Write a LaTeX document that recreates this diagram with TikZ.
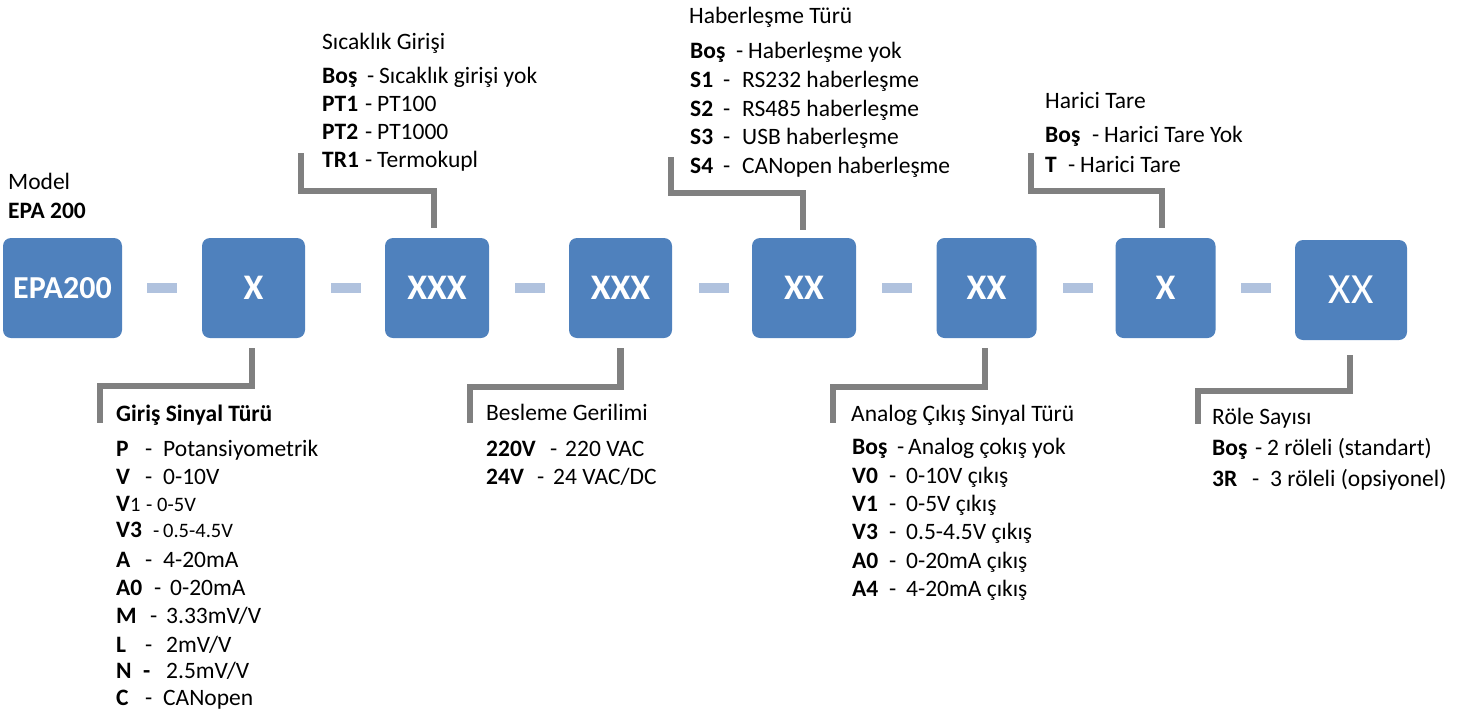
\documentclass[tikz,border=0pt]{standalone}
\usepackage{fontspec}
\setmainfont{Carlito}
\definecolor{boxblue}{HTML}{4F81BD}
\definecolor{dashblue}{HTML}{B0C2DE}
\definecolor{conngray}{HTML}{808080}
\newcommand\kvrow[4]{\makebox[#1pt][l]{\textbf{#2}}\makebox[#3pt][l]{-}#4}
\newcommand\smalltxt{\fontsize{20.5}{24}\selectfont}
\begin{document}
\begin{tikzpicture}[x=1pt,y=-1pt]
\tikzset{
  codebox/.style={fill=boxblue, rounded corners=8pt, minimum height=100pt, text=white,
    font=\fontsize{36}{40}\selectfont\bfseries, inner sep=0pt},
  sepbar/.style={fill=dashblue, minimum width=30pt, minimum height=10pt, inner sep=0pt},
  conn/.style={draw=conngray, line width=6.5pt, line join=miter},
  txt/.style={anchor=base west, inner sep=0pt, font=\fontsize{23.5}{27}\selectfont},
}
\useasboundingbox (0,0) rectangle (1473,718);

% boxes
\node[codebox, minimum width=119pt, font=\fontsize{32}{36}\selectfont\bfseries] (b1) at (62.5,288) {EPA200};
\node[codebox, minimum width=103pt] (b2) at (253.5,288) {X};
\node[codebox, minimum width=104pt] (b3) at (437,288) {XXX};
\node[codebox, minimum width=103pt] (b4) at (620.5,288) {XXX};
\node[codebox, minimum width=104pt] (b5) at (804,288) {XX};
\node[codebox, minimum width=100pt] (b6) at (986.5,288) {XX};
\node[codebox, minimum width=100pt] (b7) at (1165.5,288) {X};
\node[codebox, minimum width=112pt, font=\fontsize{43}{46}\selectfont] (b8) at (1351,290) {XX};

% separators
\node[sepbar] (d1) at (162,288) {};
\node[sepbar] (d2) at (346,288) {};
\node[sepbar] (d3) at (530,288) {};
\node[sepbar] (d4) at (714,288) {};
\node[sepbar] (d5) at (897,288) {};
\node[sepbar] (d6) at (1078,288) {};
\node[sepbar] (d7) at (1256,288) {};

% connector end points
\coordinate (g1a) at (100,386); \coordinate (g1) at (100,423);
\coordinate (g2a) at (301,191); \coordinate (g2) at (301,153);
\coordinate (g3a) at (470,387); \coordinate (g3) at (470,423);
\coordinate (g4a) at (671,193); \coordinate (g4) at (671,157);
\coordinate (g5a) at (833,387); \coordinate (g5) at (833,423);
\coordinate (g6a) at (1031,191); \coordinate (g6) at (1031,153);
\coordinate (g7a) at (1198,391); \coordinate (g7) at (1198,424);

\draw[conn] ([xshift=-1.5pt,yshift=-10pt]b2.south) |- (g1a) -- (g1);
\draw[conn] ([xshift=-3pt,yshift=10pt]b3.north) |- (g2a) -- (g2);
\draw[conn] ([yshift=-10pt]b4.south) |- (g3a) -- (g3);
\draw[conn] ([xshift=-1pt,yshift=8pt]b5.north) |- (g4a) -- (g4);
\draw[conn] ([xshift=-1.5pt,yshift=-10pt]b6.south) |- (g5a) -- (g5);
\draw[conn] ([xshift=-3.5pt,yshift=10pt]b7.north) |- (g6a) -- (g6);
\draw[conn] ([xshift=-1pt,yshift=-15pt]b8.south) |- (g7a) -- (g7);

% Model
\node[txt] (m1) at (8,189) {Model};
\node[txt] (m2) at (8,218) {\textbf{EPA 200}};

% Sicaklik Girisi
\node[txt] (s0) at (322,49) {Sıcaklık Girişi};
\node[txt] (s1) at (322,83) {\kvrow{45}{Boş}{12}{Sıcaklık girişi yok}};
\node[txt] (s2) at (322,111) {\kvrow{43}{PT1}{12}{PT100}};
\node[txt] (s3) at (322,139) {\kvrow{43}{PT2}{12}{PT1000}};
\node[txt] (s4) at (322,167) {\kvrow{43}{TR1}{12}{Termokupl}};

% Haberlesme Turu
\node[txt] (h0) at (689,23) {Haberleşme Türü};
\node[txt] (h1) at (690,58) {\kvrow{46}{Boş}{12}{Haberleşme yok}};
\node[txt] (h2) at (690,87) {\kvrow{33}{S1}{19}{RS232 haberleşme}};
\node[txt] (h3) at (690,116) {\kvrow{33}{S2}{19}{RS485 haberleşme}};
\node[txt] (h4) at (690,144) {\kvrow{33}{S3}{19}{USB haberleşme}};
\node[txt] (h5) at (690,173) {\kvrow{33}{S4}{19}{CANopen haberleşme}};

% Harici Tare
\node[txt] (t0) at (1045,108) {Harici Tare};
\node[txt] (t1) at (1045,142) {\kvrow{47}{Boş}{12}{Harici Tare Yok}};
\node[txt] (t2) at (1045,172) {\kvrow{23}{T}{12}{Harici Tare}};

% Giris Sinyal Turu
\node[txt] (i0) at (116,421) {\textbf{Giriş Sinyal Türü}};
\node[txt] (i1) at (116,456) {\kvrow{29}{P}{18}{Potansiyometrik}};
\node[txt] (i2) at (116,484) {\kvrow{29}{V}{18}{0-10V}};
\node[txt] (i3) at (116,511) {\makebox[14pt][l]{\textbf{V}}{\smalltxt\makebox[16pt][l]{1}\makebox[11pt][l]{-}0-5V}};
\node[txt] (i4) at (116,537) {\makebox[37pt][l]{\textbf{V3}}{\smalltxt\makebox[10pt][l]{-}0.5-4.5V}};
\node[txt] (i5) at (116,567) {\kvrow{29}{A}{18}{4-20mA}};
\node[txt] (i6) at (116,595) {\kvrow{38}{A0}{16}{0-20mA}};
\node[txt] (i7) at (116,623) {\kvrow{34}{M}{16}{3.33mV/V}};
\node[txt] (i8) at (116,652) {\kvrow{29}{L}{21}{2mV/V}};
\node[txt] (i9) at (116,678) {\makebox[27pt][l]{\textbf{N}}\makebox[23pt][l]{\textbf{-}}2.5mV/V};
\node[txt] (i10) at (116,705) {\kvrow{29}{C}{18}{CANopen}};

% Besleme Gerilimi
\node[txt] (e0) at (486,420) {Besleme Gerilimi};
\node[txt] (e1) at (486,456) {\kvrow{64}{220V}{15}{220 VAC}};
\node[txt] (e2) at (486,484) {\kvrow{51}{24V}{16}{24 VAC/DC}};

% Analog Cikis Sinyal Turu
\node[txt] (a0) at (851,421) {Analog Çıkış Sinyal Türü};
\node[txt] (a1) at (852,454) {\kvrow{45}{Boş}{11}{Analog çokış yok}};
\node[txt] (a2) at (852,483) {\kvrow{37}{V0}{17}{0-10V çıkış}};
\node[txt] (a3) at (852,511) {\kvrow{37}{V1}{17}{0-5V çıkış}};
\node[txt] (a4) at (852,539) {\kvrow{37}{V3}{17}{0.5-4.5V çıkış}};
\node[txt] (a5) at (852,568) {\kvrow{37}{A0}{17}{0-20mA çıkış}};
\node[txt] (a6) at (852,596) {\kvrow{37}{A4}{17}{4-20mA çıkış}};

% Role Sayisi
\node[txt] (r0) at (1212,424) {Röle Sayısı};
\node[txt] (r1) at (1212,455) {\kvrow{43}{Boş}{12}{2 röleli (standart)}};
\node[txt] (r2) at (1212,486) {\kvrow{40}{3R}{18}{3 röleli (opsiyonel)}};
\end{tikzpicture}
\end{document}
